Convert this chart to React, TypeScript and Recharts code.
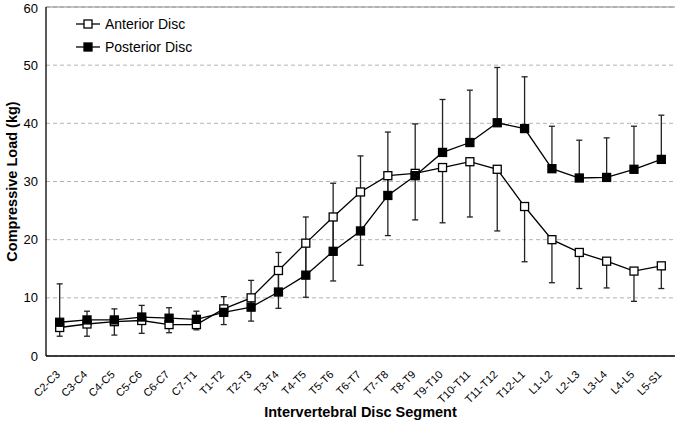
import React from 'react';
import { ComposedChart, Line, XAxis, YAxis, CartesianGrid, ErrorBar, ReferenceLine } from 'recharts';

const segments = [
  'C2-C3', 'C3-C4', 'C4-C5', 'C5-C6', 'C6-C7', 'C7-T1', 'T1-T2', 'T2-T3', 'T3-T4', 'T4-T5', 'T5-T6', 'T6-T7',
  'T7-T8', 'T8-T9', 'T9-T10', 'T10-T11', 'T11-T12', 'T12-L1', 'L1-L2', 'L2-L3', 'L3-L4', 'L4-L5', 'L5-S1',
];

// mean loads (kg)
const anterior = [4.9, 5.5, 5.9, 6.1, 5.4, 5.4, 8.1, 10.0, 14.7, 19.4, 23.9, 28.2, 31.0, 31.4, 32.4, 33.4, 32.1, 25.7, 20.0, 17.8, 16.3, 14.6, 15.5];
const posterior = [5.8, 6.2, 6.2, 6.7, 6.5, 6.3, 7.5, 8.4, 11.0, 13.9, 18.0, 21.5, 27.6, 31.0, 35.0, 36.7, 40.1, 39.1, 32.2, 30.6, 30.7, 32.1, 33.8];

// error bar ends
const anteriorLow = [3.4, 3.4, 3.6, 3.9, 4.0, 4.5, 5.4, 6.0, 8.2, 10.1, 12.9, 15.6, 20.7, 23.4, 22.9, 23.9, 21.5, 16.2, 12.6, 11.6, 11.7, 9.4, 11.6];
const posteriorHigh = [12.4, 7.7, 8.1, 8.7, 8.3, 7.7, 10.2, 13.0, 17.8, 23.9, 29.7, 34.4, 38.5, 39.9, 44.1, 45.7, 49.6, 48.0, 39.5, 37.1, 37.5, 39.5, 41.4];

const yTicks = [0, 10, 20, 30, 40, 50, 60];

const data = segments.map((seg, i) => ({
  seg,
  anterior: anterior[i],
  posterior: posterior[i],
  antErr: [anterior[i] - anteriorLow[i], 0],
  postErr: [0, posteriorHigh[i] - posterior[i]],
}));

const FONT = '"Liberation Sans", Arial, Helvetica, sans-serif';

// rotated category label; rotation set through CSS transform on an inner group
const SegTick = (props: any) => {
  const { x, y, payload } = props;
  return (
    <g transform={`translate(${x - 1},${y + 9})`}>
      <g style={{ transform: 'rotate(-45deg)' }}>
        <text x={0} y={0} dy={3} textAnchor="end" fontSize={11} fill="#000" fontFamily={FONT}>
          {payload.value}
        </text>
      </g>
    </g>
  );
};

const squareDot = (filled: boolean) => (p: any) => (
  <rect
    key={`${filled ? 'p' : 'a'}-${p.index}`}
    x={p.cx - 4}
    y={p.cy - 4}
    width={8}
    height={8}
    fill={filled ? '#000' : '#fff'}
    stroke="#000"
    strokeWidth={1.3}
  />
);

const LegendBox = () => {
  const items = [
    { label: 'Anterior Disc', filled: false },
    { label: 'Posterior Disc', filled: true },
  ];
  return (
    <div style={{ position: 'absolute', left: 74, top: 12, fontFamily: FONT, fontSize: 14, color: '#000' }}>
      {items.map((it) => (
        <div key={it.label} style={{ display: 'flex', alignItems: 'center', height: 23.5 }}>
          <svg width={28} height={12} style={{ marginRight: 3 }}>
            <line x1={2} y1={6} x2={26} y2={6} stroke="#000" strokeWidth={1.3} />
            <rect x={10} y={2} width={8} height={8} fill={it.filled ? '#000' : '#fff'} stroke="#000" strokeWidth={1.3} />
          </svg>
          <span>{it.label}</span>
        </div>
      ))}
    </div>
  );
};

export default function App() {
  return (
    <div style={{ position: 'absolute', left: 0, top: 0, width: 678, height: 427, background: '#fff' }}>
      <ComposedChart width={678} height={427} data={data} margin={{ top: 7, right: 3, left: 0, bottom: 0 }}>
        <CartesianGrid horizontal vertical={false} stroke="#b4b4b4" strokeDasharray="4 3" />
        <XAxis
          dataKey="seg"
          scale="band"
          interval={0}
          tick={<SegTick />}
          tickLine={false}
          axisLine={{ stroke: '#000', strokeWidth: 1.3 }}
          height={71}
          label={{ value: 'Intervertebral Disc Segment', position: 'insideBottom', offset: 10, fontSize: 14.5, fontWeight: 'bold', fill: '#000', fontFamily: FONT }}
        />
        <YAxis
          domain={[0, 60]}
          ticks={yTicks}
          width={46}
          tickLine={false}
          axisLine={{ stroke: '#000', strokeWidth: 1.3 }}
          tick={{ fontSize: 13, fill: '#000', fontFamily: FONT }}
          label={{ value: 'Compressive Load (kg)', angle: -90, position: 'center', dx: -11, fontSize: 14.5, fontWeight: 'bold', fill: '#000', fontFamily: FONT }}
        />
        <YAxis yAxisId="right" orientation="right" width={0} domain={[0, 60]} tick={false} tickLine={false} axisLine={{ stroke: '#999' }} />
        <ReferenceLine y={60} stroke="#8a8a8a" />
        <Line
          dataKey="anterior"
          stroke="#000"
          strokeWidth={1.3}
          dot={squareDot(false)}
          activeDot={false}
          isAnimationActive={false}
        >
          <ErrorBar dataKey="antErr" width={3} stroke="#222" strokeWidth={1.3} direction="y" isAnimationActive={false} />
        </Line>
        <Line
          dataKey="posterior"
          stroke="#000"
          strokeWidth={1.3}
          dot={squareDot(true)}
          activeDot={false}
          isAnimationActive={false}
        >
          <ErrorBar dataKey="postErr" width={3} stroke="#222" strokeWidth={1.3} direction="y" isAnimationActive={false} />
        </Line>
      </ComposedChart>
      <LegendBox />
    </div>
  );
}
